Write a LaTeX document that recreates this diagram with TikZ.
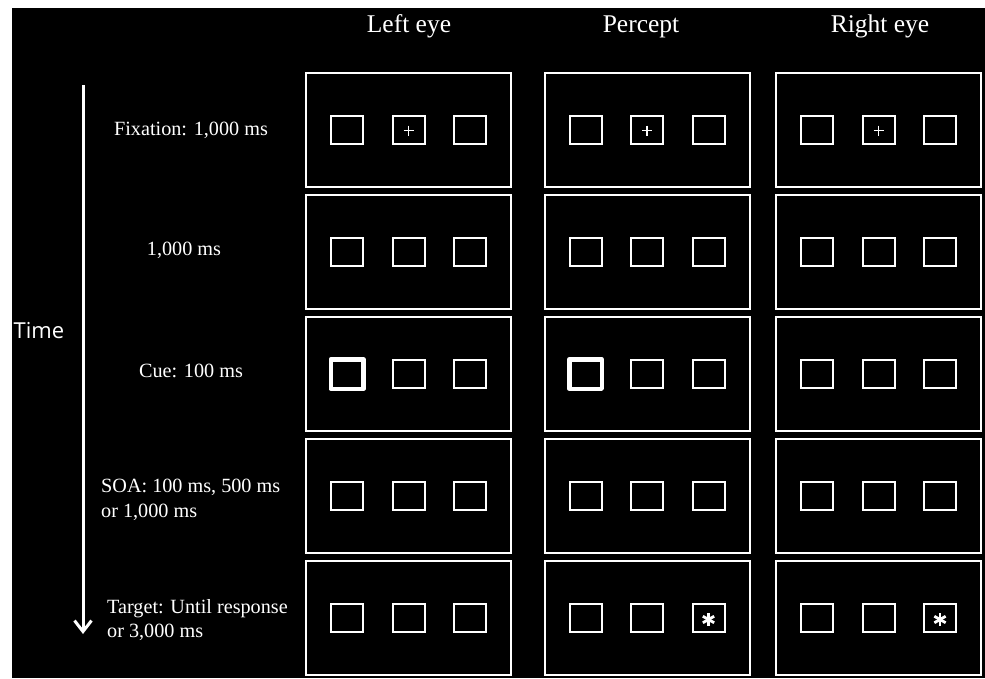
\documentclass[tikz,border=0pt]{standalone}
\usepackage{fontspec}
\setmainfont{Liberation Serif}
\newfontfamily\timefont{Open Sans}
\usetikzlibrary{arrows.meta}
\tikzset{
  panel/.style={draw=white, line width=2pt, minimum width=205pt, minimum height=114pt, inner sep=0pt},
  slot/.style={draw=white, line width=2pt, minimum width=32pt, minimum height=28pt, inner sep=0pt},
  cueslot/.style={draw=white, line width=4.5pt, line join=round, minimum width=32.5pt, minimum height=29.5pt, inner sep=0pt},
  head/.style={text=white, inner sep=0pt, anchor=base, font=\fontsize{25.5}{30}\selectfont},
  lbl/.style={text=white, inner sep=0pt, align=left, font=\fontsize{20.2}{24.5}\selectfont},
  plus/.style={white, line width=1.4pt},
  asterisk/.style={white, line width=2.8pt}
}

\begin{document}
\begin{tikzpicture}[x=1pt,y=-1pt,>=latex]
\fill[white] (0,0) rectangle (985,678);
\fill[black] (12,8) rectangle (985,678);
\useasboundingbox (0,0) rectangle (985,678);

\node[head] (hL) at (409,32) {Left eye};
\node[head] (hP) at (641,32) {Percept};
\node[head] (hR) at (880,32) {Right eye};

\foreach \c/\x/\k in {L/408.5/cueslot, P/647/cueslot, R/878.5/slot}
  \foreach \r in {1,...,5} {
    \ifnum\r=3 \def\firstslot{\k}\else\def\firstslot{slot}\fi
    \node[panel] (\c\r) at (\x,{130+122*(\r-1)}) {};
    \node[\firstslot] (\c\r-1) at ([xshift=-61.5pt]\c\r.center) {};
    \node[slot] (\c\r-2) at (\c\r.center) {};
    \node[slot] (\c\r-3) at ([xshift=61.5pt]\c\r.center) {};
  }

\foreach \c in {L,P,R} {
  \draw[plus] ([xshift=-5pt,yshift=-0.5pt]\c1-2.center) -- ([xshift=5pt,yshift=-0.5pt]\c1-2.center);
  \draw[plus] ([yshift=4.5pt]\c1-2.center) -- ([yshift=-5.5pt]\c1-2.center);
}
\foreach \c in {P,R}
  \foreach \a in {90,30,150}
    \draw[asterisk] ([shift={(\a:6.5)},yshift=-1.5pt]\c5-3.center) -- ([shift={(\a+180:6.5)},yshift=-1.5pt]\c5-3.center);

\node[lbl, anchor=base] (fix) at (191,135) {Fixation: 1,000 ms};
\node[lbl, anchor=base] (blank) at (184,255) {1,000 ms};
\node[lbl, anchor=base] (cue) at (191,377) {Cue: 100 ms};
\node[lbl, anchor=north west] (soa) at (101,479) {SOA: 100 ms, 500 ms\\or 1,000 ms};
\node[lbl, anchor=north west] (tgt) at (107,599) {Target: Until response\\or 3,000 ms};

\node[text=white, inner sep=0pt, font=\timefont\fontsize{22}{26}\selectfont] (time) at (39,331) {Time};
\coordinate (tstart) at (83,85);
\coordinate (tend) at (83,634);
\draw[white, line width=3pt, -{Straight Barb[length=11pt,width=17pt]}] (tstart) -- (tend);
\end{tikzpicture}
\end{document}
